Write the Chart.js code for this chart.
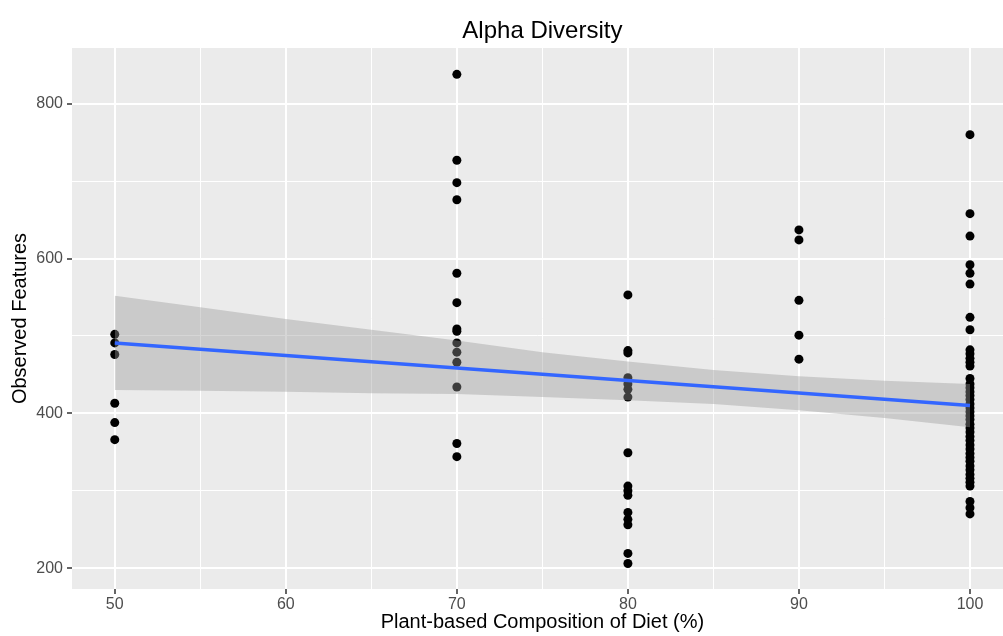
<!DOCTYPE html>
<html>
<head>
<meta charset="utf-8">
<script src="https://cdn.jsdelivr.net/npm/chart.js@4.4.1/dist/chart.umd.min.js"></script>
<style>
  html, body { margin: 0; padding: 0; background: #ffffff; }
  #wrap { width: 1003px; height: 636px; }
</style>
</head>
<body>
<div id="wrap"><canvas id="alphaChart" width="1003" height="636"></canvas></div>
<script>
// Plant-based share of diet (%) and observed features per sample
const dietLevels = [50, 70, 80, 90, 100];
const obs50 = [502, 491, 476, 413, 388, 366];
const obs70 = [838, 727, 698, 676, 581, 543, 509, 506, 491, 479, 466, 434, 361, 344];
const obs80 = [553, 481, 478, 446, 438, 431, 421, 349, 306, 300, 294, 272, 263, 256, 219, 206];
const obs90 = [637, 624, 546, 501, 470];
const obs100 = [760, 658, 629, 592, 581, 567, 524, 508, 482, 477, 471, 466, 461,
  445, 438, 433, 428, 423, 418, 412, 407, 402, 397, 392, 386, 381, 376, 370,
  365, 359, 354, 348, 343, 338, 332, 327, 321, 316, 311, 306, 286, 278, 270];

// linear fit and its confidence band
const fitX = [50, 100];
const fitY = [491, 410];
const bandX = [50, 55, 60, 65, 70, 75, 80, 85, 90, 95, 100];
const bandUpper = [552, 537, 522, 508, 494, 479, 467, 456, 448, 442, 438];
const bandLower = [430, 429, 428, 426, 425, 421, 417, 412, 404, 394, 382];

// axis breaks
const xTicks = [50, 60, 70, 80, 90, 100];
const xMinor = [55, 65, 75, 85, 95];
const yTicks = [200, 400, 600, 800];
const yMinor = [300, 500, 700];

const groups = [obs50, obs70, obs80, obs90, obs100];
const points = [];
groups.forEach((vals, i) => {
  vals.forEach((v) => points.push({ x: dietLevels[i], y: v }));
});

const FONT = '"Liberation Sans", Arial, Helvetica, sans-serif';

// grey panel behind the grid, plus the titles centred on the panel
const panelPlugin = {
  id: "panel",
  beforeDraw(chart) {
    const { ctx, chartArea: a } = chart;
    ctx.save();
    ctx.fillStyle = "#ffffff";
    ctx.fillRect(0, 0, chart.width, chart.height);
    ctx.fillStyle = "#EBEBEB";
    ctx.fillRect(a.left, a.top, a.right - a.left, a.bottom - a.top);
    ctx.restore();
  },
  afterDraw(chart) {
    const { ctx } = chart;
    const mid = chart.scales.x.getPixelForValue(75);
    ctx.save();
    ctx.fillStyle = "#000000";
    ctx.textAlign = "center";
    ctx.textBaseline = "middle";
    ctx.font = "24px " + FONT;
    ctx.fillText("Alpha Diversity", mid, 31);
    ctx.font = "20px " + FONT;
    ctx.fillText("Plant-based Composition of Diet (%)", mid, 622);
    ctx.restore();
  },
};

const toXY = (xs, ys) => xs.map((x, i) => ({ x: x, y: ys[i] }));

new Chart(document.getElementById("alphaChart"), {
  type: "scatter",
  data: {
    datasets: [
      {
        type: "line",
        label: "fit",
        data: toXY(fitX, fitY),
        borderColor: "#3366FF",
        borderWidth: 3.5,
        pointRadius: 0,
        fill: false,
        order: 0,
      },
      {
        type: "line",
        label: "upper",
        data: toXY(bandX, bandUpper),
        borderColor: "rgba(0,0,0,0)",
        borderWidth: 0,
        pointRadius: 0,
        fill: 2,
        backgroundColor: "rgba(153,153,153,0.4)",
        order: 1,
      },
      {
        type: "line",
        label: "lower",
        data: toXY(bandX, bandLower),
        borderColor: "rgba(0,0,0,0)",
        borderWidth: 0,
        pointRadius: 0,
        fill: false,
        order: 1,
      },
      {
        label: "Observed Features",
        data: points,
        pointRadius: 4.5,
        backgroundColor: "#000000",
        borderWidth: 0,
        order: 2,
      },
    ],
  },
  options: {
    responsive: false,
    animation: false,
    layout: { autoPadding: false, padding: { top: 48, left: 0, right: 0, bottom: 0 } },
    plugins: {
      legend: { display: false },
      tooltip: { enabled: false },
      title: { display: false },
    },
    scales: {
      x: {
        type: "linear",
        min: 47.5,
        max: 101.93,
        afterBuildTicks: (scale) => {
          scale.ticks = [...xTicks, ...xMinor]
            .sort((a, b) => a - b)
            .map((v) => ({ value: v }));
        },
        afterFit: (scale) => {
          scale.height = 47;
        },
        ticks: {
          autoSkip: false,
          maxRotation: 0,
          padding: 1,
          color: "#4D4D4D",
          font: { family: FONT, size: 16 },
          callback: (v) => (xTicks.includes(v) ? String(v) : ""),
        },
        grid: {
          color: "#FFFFFF",
          lineWidth: (c) => (c.tick && xTicks.includes(c.tick.value) ? 2 : 1),
          tickColor: (c) =>
            c.tick && xTicks.includes(c.tick.value) ? "#333333" : "rgba(0,0,0,0)",
          tickLength: 5,
          tickWidth: 1.5,
        },
        border: { display: false },
        title: { display: false },
      },
      y: {
        type: "linear",
        min: 173,
        max: 872,
        afterBuildTicks: (scale) => {
          scale.ticks = [...yTicks, ...yMinor]
            .sort((a, b) => a - b)
            .map((v) => ({ value: v }));
        },
        afterFit: (scale) => {
          scale.width = 72;
        },
        ticks: {
          autoSkip: false,
          padding: 4,
          color: "#4D4D4D",
          font: { family: FONT, size: 16 },
          callback: (v) => (yTicks.includes(v) ? String(v) : ""),
        },
        grid: {
          color: "#FFFFFF",
          lineWidth: (c) => (c.tick && yTicks.includes(c.tick.value) ? 2 : 1),
          tickColor: (c) =>
            c.tick && yTicks.includes(c.tick.value) ? "#333333" : "rgba(0,0,0,0)",
          tickLength: 5,
          tickWidth: 1.5,
        },
        border: { display: false },
        title: {
          display: true,
          text: "Observed Features",
          color: "#000000",
          font: { family: FONT, size: 20 },
          padding: { top: 8, bottom: 0 },
        },
      },
    },
  },
  plugins: [panelPlugin],
});
</script>
</body>
</html>
